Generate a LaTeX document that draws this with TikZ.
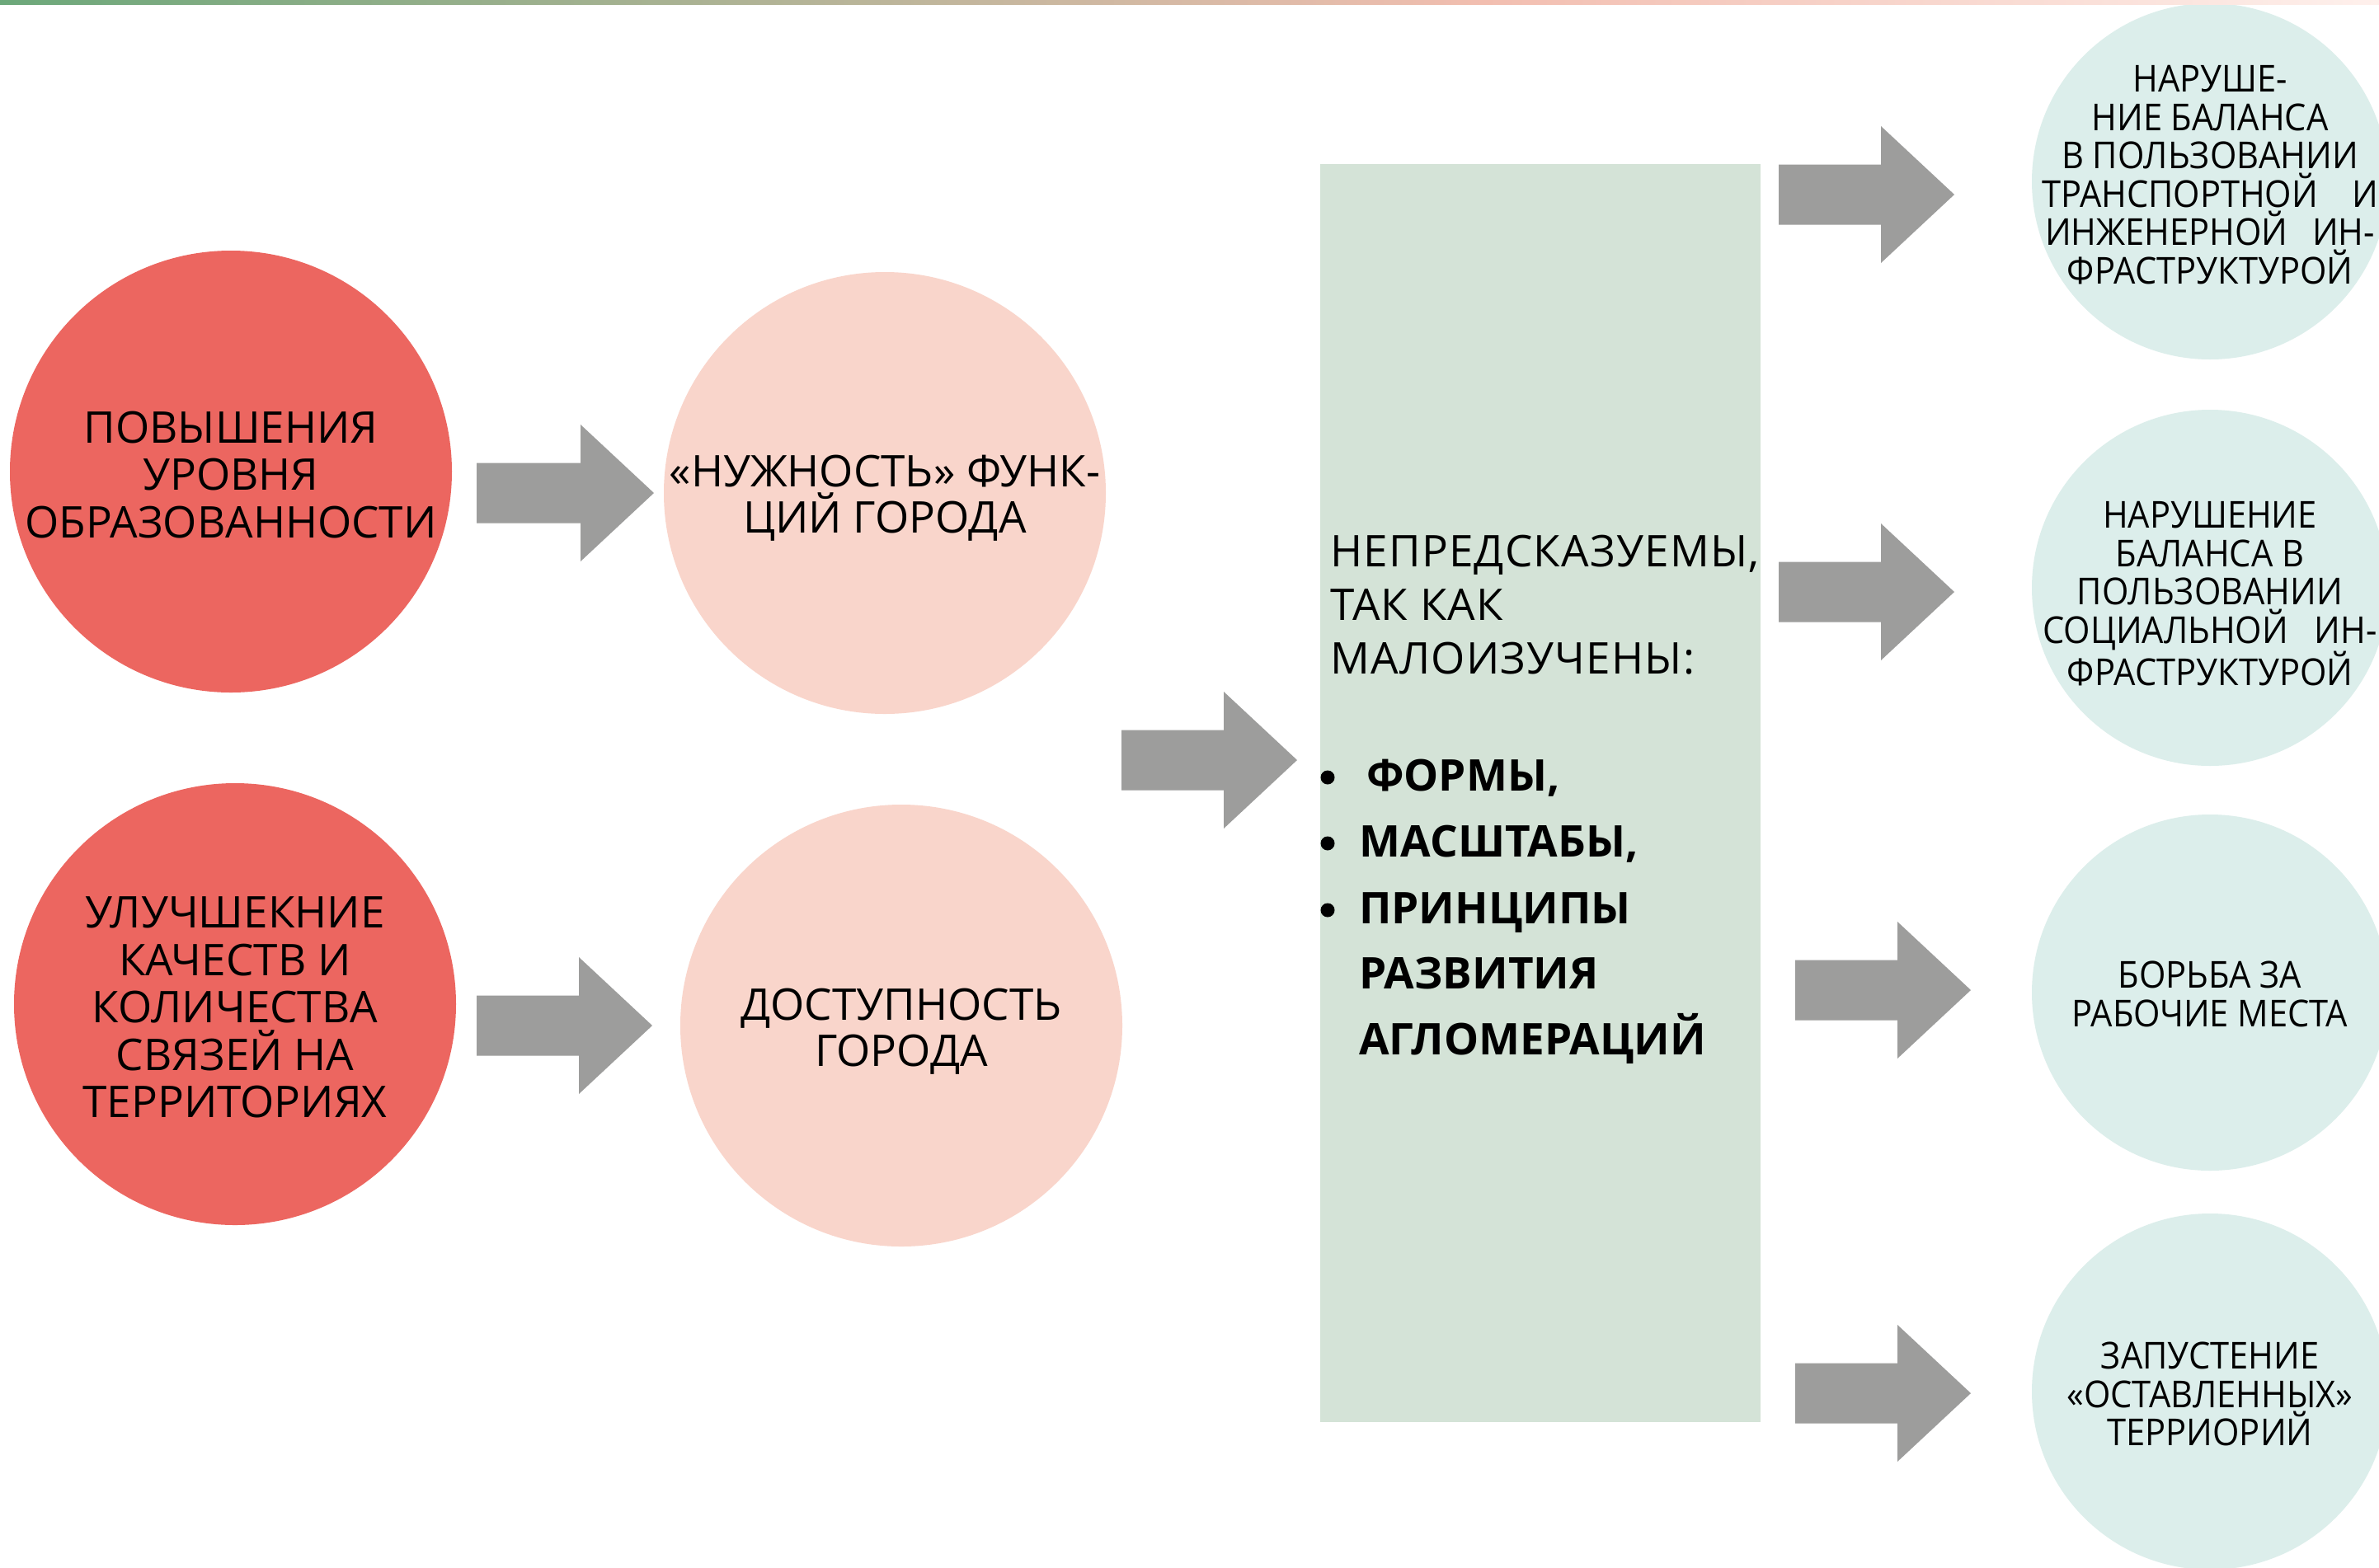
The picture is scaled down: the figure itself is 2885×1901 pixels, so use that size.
\documentclass[tikz,border=0pt]{standalone}
\usepackage{fontspec}
\setmainfont{Open Sans}
\newfontfamily\narrowfont[FakeStretch=0.925]{Open Sans}
\usetikzlibrary{calc}
\definecolor{redc}{RGB}{236,102,96}
\definecolor{pinkc}{RGB}{249,213,203}
\definecolor{sagec}{RGB}{212,227,215}
\definecolor{tealc}{RGB}{220,238,235}
\definecolor{arrowc}{RGB}{157,157,156}
\definecolor{bandg}{RGB}{108,168,122}
\definecolor{bands}{RGB}{242,190,176}
\definecolor{bandw}{RGB}{254,240,236}
\newcommand\blockarrow[2]{\fill[arrowc] ($(#1)+(0,-36.5)$) -- ($(#2)+(-89,-36.5)$) -- ($(#2)+(-89,-83)$) -- (#2) -- ($(#2)+(-89,83)$) -- ($(#2)+(-89,36.5)$) -- ($(#1)+(0,36.5)$) -- cycle;}
\begin{document}
\begin{tikzpicture}[x=1pt,y=-1pt,
  bigcirc/.style={circle,minimum size=536pt,inner sep=0pt,draw=none},
  smallcirc/.style={circle,fill=tealc,minimum size=432pt,inner sep=0pt,draw=none},
  ltext/.style={align=center,inner sep=0pt,font=\fontsize{53}{57.5}\selectfont},
  ptext/.style={align=center,inner sep=0pt,font=\fontsize{53}{56}\selectfont},
  rtext/.style={align=center,inner sep=0pt,font=\narrowfont\fontsize{45}{46.5}\selectfont},
  htext/.style={anchor=base west,inner sep=0pt,font=\fontsize{53}{65}\selectfont\addfontfeature{LetterSpace=2.3}},
  btext/.style={anchor=base west,inner sep=0pt,font=\fontsize{53}{79}\selectfont\bfseries},
  bulletdot/.style={circle,fill=black,minimum size=17pt,inner sep=0pt}]
\fill[white] (0,0) rectangle (2885,1901);
\useasboundingbox (0,0) rectangle (2885,1901);
% left circles
\node[bigcirc,fill=redc] (r1) at (280,572) {};
\node[bigcirc,fill=redc] (r2) at (285,1218) {};
\node[bigcirc,fill=pinkc] (p1) at (1073,598) {};
\node[bigcirc,fill=pinkc] (p2) at (1093,1244) {};
\node[ltext] (t1) at (280,576) {ПОВЫШЕНИЯ\\УРОВНЯ\\ОБРАЗОВАННОСТИ};
\node[ltext] (t2) at (285,1222) {УЛУЧШЕКНИЕ\\КАЧЕСТВ И\\КОЛИЧЕСТВА\\СВЯЗЕЙ НА\\ТЕРРИТОРИЯХ};
\node[ptext] (t3) at (1073,604) {«НУЖНОСТЬ» ФУНК-\\ЦИЙ ГОРОДА};
\node[ptext] (t4) at (1093,1251) {ДОСТУПНОСТЬ\\ГОРОДА};
% central box
\node[fill=sagec,minimum width=534pt,minimum height=1526pt,inner sep=0pt,anchor=north west] (box) at (1601,199) {};
\node[htext] (h1) at (1613,687) {НЕПРЕДСКАЗУЕМЫ,};
\node[htext] (h2) at (1613,752) {ТАК КАК};
\node[htext] (h3) at (1613,817) {МАЛОИЗУЧЕНЫ:};
\node[bulletdot] (d1) at (1610,943) {};
\node[bulletdot] (d2) at (1610,1023) {};
\node[bulletdot] (d3) at (1610,1104) {};
\node[btext] (b1) at (1657,959) {ФОРМЫ,};
\node[btext] (b2) at (1648,1039) {МАСШТАБЫ,};
\node[btext] (b3) at (1648,1120) {ПРИНЦИПЫ};
\node[btext] (b4) at (1648,1199) {РАЗВИТИЯ};
\node[btext] (b5) at (1648,1279) {АГЛОМЕРАЦИЙ};
% right circles
\node[smallcirc] (c1) at (2680,220) {};
\node[smallcirc] (c2) at (2680,713) {};
\node[smallcirc] (c3) at (2680,1204) {};
\node[smallcirc] (c4) at (2680,1688) {};
\node[rtext] (s1) at (2680,212) {НАРУШЕ-\\НИЕ БАЛАНСА\\В ПОЛЬЗОВАНИИ\\\makebox[408pt][s]{ТРАНСПОРТНОЙ И}\\\makebox[400pt][s]{ИНЖЕНЕРНОЙ ИН-}\\ФРАСТРУКТУРОЙ};
\node[rtext] (s2) at (2680,720) {НАРУШЕНИЕ\\БАЛАНСА В\\ПОЛЬЗОВАНИИ\\\makebox[405pt][s]{СОЦИАЛЬНОЙ ИН-}\\ФРАСТРУКТУРОЙ};
\node[rtext] (s3) at (2680,1206) {БОРЬБА ЗА\\РАБОЧИЕ МЕСТА};
\node[rtext] (s4) at (2680,1691) {ЗАПУСТЕНИЕ\\«ОСТАВЛЕННЫХ»\\ТЕРРИОРИЙ};
% block arrows
\coordinate (a1s) at (578,598);  \coordinate (a1e) at (793,598);
\coordinate (a2s) at (578,1244); \coordinate (a2e) at (791,1244);
\coordinate (a3s) at (1360,922); \coordinate (a3e) at (1573,922);
\coordinate (a4s) at (2157,236); \coordinate (a4e) at (2370,236);
\coordinate (a5s) at (2157,718); \coordinate (a5e) at (2370,718);
\coordinate (a6s) at (2177,1201); \coordinate (a6e) at (2390,1201);
\coordinate (a7s) at (2177,1690); \coordinate (a7e) at (2390,1690);
\blockarrow{a1s}{a1e}
\blockarrow{a2s}{a2e}
\blockarrow{a3s}{a3e}
\blockarrow{a4s}{a4e}
\blockarrow{a5s}{a5e}
\blockarrow{a6s}{a6e}
\blockarrow{a7s}{a7e}
% top band
\shade[left color=bandg,right color=bands] (0,0) rectangle (1800,5);
\shade[left color=bands,right color=bandw] (1800,0) rectangle (2885,5);
\end{tikzpicture}
\end{document}
